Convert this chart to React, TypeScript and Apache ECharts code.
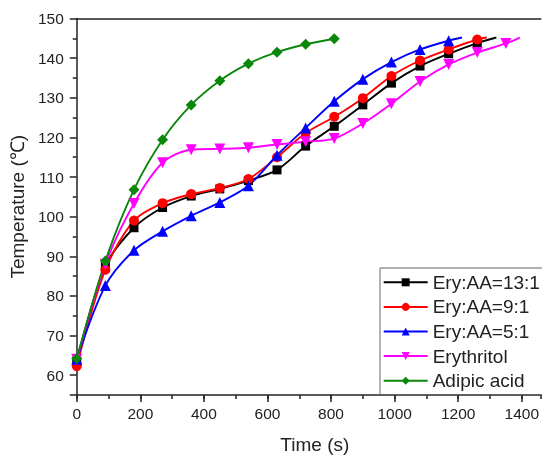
import React, { useEffect, useRef } from "react";
import * as echarts from "echarts";

const time = [0, 90, 180, 270, 360, 450, 540, 630, 720, 810, 900, 990, 1080, 1170, 1260, 1350];

const ery13 = [63.5, 87.5, 97.2, 102.3, 105.2, 107.0, 109.1, 111.8, 117.8, 122.8, 128.2, 133.7, 138.0, 141.1, 143.8];
const ery13End = [1320, 145.2];
const ery9 = [62.3, 86.6, 99.0, 103.4, 105.7, 107.2, 109.5, 115.0, 121.1, 125.2, 129.9, 135.5, 139.4, 142.2, 144.7];
const ery9End = [1290, 145.2];
const ery5 = [64.0, 82.6, 91.5, 96.3, 100.2, 103.6, 107.8, 115.5, 122.4, 129.1, 134.7, 139.0, 142.2, 144.4];
const ery5End = [1212, 145.2];
const erythritol = [64.0, 88.0, 103.3, 113.6, 116.9, 117.1, 117.4, 118.2, 118.9, 119.7, 123.5, 128.5, 134.1, 138.4, 141.4, 143.7];
const erythritolEnd = [1394, 145.2];
const adipic = [64.2, 88.8, 106.8, 119.4, 128.2, 134.3, 138.6, 141.5, 143.5, 144.9];

const seriesNames = ["Ery:AA=13:1", "Ery:AA=9:1", "Ery:AA=5:1", "Erythritol", "Adipic acid"];
const xTitle = "Time (s)";
const yTitle = "Temperature (℃)";

const FONT = "'Liberation Sans', Arial, sans-serif";
const INK = "#222";

function pts(vals: number[], end?: number[]) {
  const d: any[] = vals.map((v, i) => [time[i], v]);
  if (end) d.push({ value: end, symbol: "none" });
  return d;
}

export default function App() {
  const ref = useRef<HTMLDivElement>(null);
  useEffect(() => {
    const chart = echarts.init(ref.current!, null, { renderer: "svg" });
    const mk = (name: string, data: any[], color: string, symbol: string, size: number, rotate = 0) => ({
      name,
      type: "line",
      xAxisIndex: 0,
      data,
      smooth: 0.3,
      symbol,
      symbolSize: size,
      symbolRotate: rotate,
      showAllSymbol: true,
      lineStyle: { color, width: 1.9 },
      itemStyle: { color, borderWidth: 0 },
      emphasis: { disabled: true },
    });
    const axisLineStyle = { color: INK, width: 1.5 };
    chart.setOption({
      animation: false,
      textStyle: { fontFamily: FONT },
      grid: { left: 76.5, top: 18.5, bottom: 58.3, right: 0 },
      legend: {
        orient: "vertical",
        left: 380,
        top: 268,
        padding: [4.3, 10, 4, 2.7],
        itemWidth: 44,
        itemHeight: 10,
        itemGap: 4.6,
        borderColor: "#666",
        borderWidth: 1,
        textStyle: { fontSize: 19, color: INK, fontFamily: FONT, lineHeight: 20 },
        data: seriesNames,
      },
      xAxis: [
        {
          type: "value",
          position: "bottom",
          min: 0,
          max: 1460,
          interval: 200,
          name: xTitle,
          nameLocation: "middle",
          nameGap: 40,
          nameTextStyle: { fontSize: 19, color: INK, fontFamily: FONT, padding: [0, 0, 0, 12] },
          axisLine: { show: true, lineStyle: axisLineStyle },
          axisTick: { show: true, length: 7, lineStyle: axisLineStyle },
          axisLabel: {
            fontSize: 15.5,
            color: INK,
            margin: 10,
            fontFamily: FONT,
            showMaxLabel: false,
            formatter: (v: number) => String(v),
          },
          splitLine: { show: false },
        },
        {
          type: "value",
          position: "bottom",
          min: 0,
          max: 1460,
          interval: 100,
          axisLine: { show: false },
          axisTick: { show: true, length: 4, lineStyle: axisLineStyle },
          axisLabel: { show: false },
          splitLine: { show: false },
        },
        {
          type: "value",
          position: "top",
          min: 0,
          max: 1460,
          axisLine: { show: true, lineStyle: axisLineStyle },
          axisTick: { show: false },
          axisLabel: { show: false },
          splitLine: { show: false },
        },
      ],
      yAxis: {
        type: "value",
        min: 55,
        max: 150,
        splitNumber: 10,
        name: yTitle,
        nameLocation: "middle",
        nameGap: 41,
        nameTextStyle: { fontSize: 19, color: INK, fontFamily: FONT },
        axisLine: { show: true, lineStyle: axisLineStyle },
        axisTick: { show: true, length: 7, lineStyle: axisLineStyle },
        minorTick: { show: true, splitNumber: 2, length: 4, lineStyle: axisLineStyle },
        axisLabel: { fontSize: 15.5, color: INK, margin: 13, fontFamily: FONT, showMinLabel: false },
        splitLine: { show: false },
      },
      series: [
        mk(seriesNames[0], pts(ery13, ery13End), "#000000", "rect", 9),
        mk(seriesNames[1], pts(ery9, ery9End), "#ff0000", "circle", 10),
        mk(seriesNames[2], pts(ery5, ery5End), "#0000ff", "triangle", 11),
        mk(seriesNames[3], pts(erythritol, erythritolEnd), "#ff00ff", "triangle", 11, 180),
        mk(seriesNames[4], pts(adipic), "#0a870a", "diamond", 11),
      ],
    });
    return () => chart.dispose();
  }, []);
  return <div ref={ref} style={{ position: "fixed", left: 0, top: 0, width: 542, height: 459 }} />;
}
